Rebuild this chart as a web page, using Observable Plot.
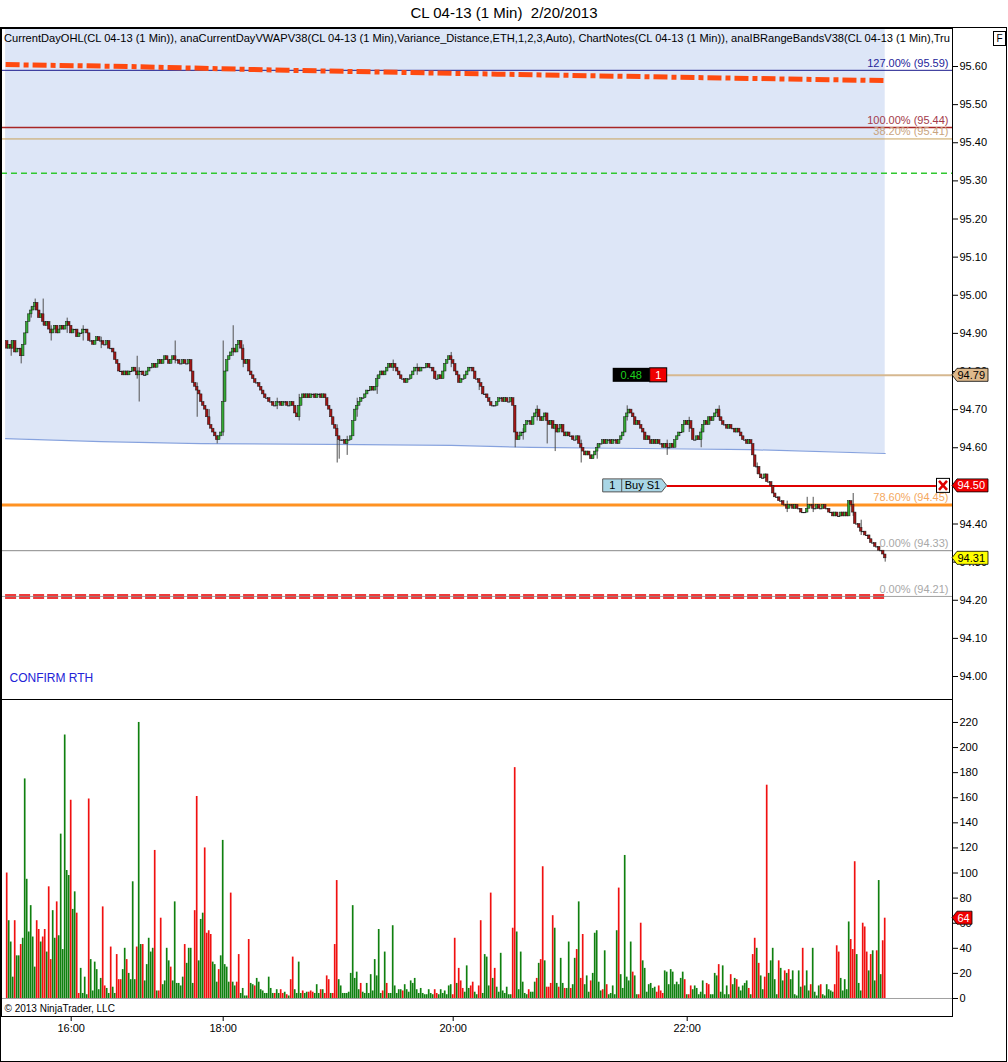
<!DOCTYPE html>
<html><head><meta charset="utf-8">
<script src="https://cdn.jsdelivr.net/npm/d3@7"></script>
<script src="https://cdn.jsdelivr.net/npm/@observablehq/plot@0.6"></script>
<style>
body{margin:0;background:#fff;}
#wrap{position:relative;width:1008px;height:1062px;overflow:hidden;background:#fff;font-family:"Liberation Sans",Arial,sans-serif;}
#title{position:absolute;left:0;top:4px;width:1008px;text-align:center;font-size:15px;white-space:pre;color:#000;}
#frame{position:absolute;left:0;top:27px;width:1005px;height:1033px;border:1px solid #000;}
#price,#vol{position:absolute;left:0;}
#price{top:28px}
#vol{top:699px}
#fbox{position:absolute;left:993px;top:31px;width:11px;height:13px;border:1px solid #000;font-size:10px;text-align:center;line-height:13px;background:#fff;}
</style></head><body>
<div id="wrap"><div id="title">CL 04-13 (1 Min)  2/20/2013</div><div id="frame"></div><div id="price"></div><div id="vol"></div><div id="fbox">F</div></div>
<script>
// ---------- DATA ----------
// 1-minute closes in ticks above 94.00 (price = 94.00 + ticks/100)
const firstOpenTicks = 88;
const closeTicks = [
86,87,86,88,85,86,86,84,87,
90,93,95,96,97,98,96,
94,95,93,92,93,91,90,91,
92,90,91,92,91,92,93,92,90,91,91,89,90,90,91,91,90,
88,88,87,88,89,88,88,87,87,88,
86,86,85,83,82,
80,80,79,80,79,80,80,81,80,79,80,80,79,79,80,
81,81,82,81,82,83,82,83,84,83,82,83,84,
83,83,82,82,83,82,82,83,
80,77,76,75,74,72,
71,70,68,66,65,
64,63,62,63,64,
72,80,
83,84,85,86,85,87,88,86,
83,82,83,
80,79,78,77,77,
76,75,74,73,73,
72,72,71,71,72,72,71,72,72,71,71,72,71,
69,68,71,73,74,
73,74,73,74,74,73,74,74,73,74,73,
71,70,68,66,65,63,62,62,
62,61,62,62,63,
67,70,71,72,73,73,
74,75,75,76,75,76,78,
79,80,79,80,81,
82,81,82,81,80,
79,78,78,77,78,78,79,80,
81,81,80,81,81,81,82,81,81,80,
78,78,79,78,
80,82,83,84,83,82,
80,79,77,78,78,79,
80,81,81,80,
78,78,77,76,
74,74,73,72,71,
71,71,72,73,73,
72,73,72,72,73,71,
64,62,63,64,64,
66,67,67,66,
68,69,70,68,67,68,69,67,66,67,
65,66,64,65,66,64,63,64,63,63,
62,62,63,61,60,
59,58,59,58,57,58,59,60,
61,61,62,61,62,62,61,62,
62,61,62,63,64,
68,69,70,69,68,
66,67,66,65,64,
62,63,62,61,62,61,62,61,61,
60,61,60,60,61,60,
62,63,64,64,
66,67,66,67,65,
62,62,63,62,64,
66,67,66,68,67,68,69,70,68,67,
66,66,65,66,65,65,64,65,64,63,
62,62,61,62,61,
58,55,55,
53,52,52,53,51,51,50,
48,47,47,46,46,
45,45,44,45,45,44,45,44,44,43,
43,43,44,
45,45,44,44,45,44,44,45,44,44,
43,43,42,43,42,42,43,42,43,42,
46,45,43,
40,40,39,38,38,37,37,
36,35,35,34,34,33,33,
32,31];

// notable wicks: [bar, high ticks, low ticks]
const wicks = [[2,88,84],[7,86,82],[12,97,94],[14,99,96],[18,99,92],[22,92,88],[30,94,90],[38,92,88],[47,89,86],
[65,84,78],[66,81,72],[84,88,82],[95,77,68],[101,70,66],[105,63,61],[108,88,63],[113,92,84],[118,87,81],[135,73,70],
[146,74,67],[165,66,56],[166,63,57],[170,63,58],[175,73,68],[185,79,74],[193,83,80],[205,82,79],[222,85,81],[236,78,75],
[254,71,60],[258,65,62],[265,71,67],[270,69,61],[274,65,59],[287,62,56],[295,61,57],[310,71,67],[330,62,58],[341,68,64],
[347,65,60],[356,71,67],[375,56,53],[390,46,43],[400,47,43],[403,47,43],[423,48,42],[427,41,37],[439,32,30]];

// volume per bar and its colour (g = up, r = down)
const volumes = [
100,62,45,17,62,34,34,43,48,175, 95,53,74,49,25,62,55,45,49,55, 37,89,31,70,48,77,50,131,39,210,
102,98,158,71,85,68,4,24,4,17, 3,159,31,6,29,23,7,16,73,10, 8,4,41,9,4,35,15,15,23,40,
31,20,15,93,15,41,220,43,43,14, 27,48,37,40,118,6,6,64,11,14, 40,30,25,14,77,12,12,10,17,43,
28,40,40,12,70,161,30,63,68,120, 52,54,51,29,27,13,23,34,126,27, 25,13,84,13,10,13,35,4,8,2,
2,47,12,11,10,16,13,7,6,4, 4,17,8,4,4,7,4,7,4,5, 3,2,15,33,7,4,29,4,6,4,
5,5,6,5,4,11,4,7,7,4, 18,15,4,4,43,94,15,
10,4,4,4,5,20,74,16,21,7, 12,5,4,12,4,19,6,31,18,55, 4,6,37,12,4,4,58,10,4,7,
7,6,11,7,5,14,12,16,7,4, 8,4,3,3,7,4,3,7,4,3, 7,4,6,3,10,11,3,48,12,24,
14,8,5,26,8,10,13,5,3,10, 62,4,35,33,10,84,16,24,9,5, 36,6,4,9,3,3,56,184,53,7,
37,13,4,3,7,5,5,13,16,28, 31,105,30,9,9,12,66,56,12,9, 32,12,8,8,45,8,11,32,39,77,
16,51,11,18,5,14,20,52,54,13, 6,7,38,11,3,4,10,3,54,88, 19,8,114,17,14,45,21,18,3,3,
60,30,24,5,11,12,8,9,5,10, 6,4,22,21,11,
23,21,11,13,11,16,21,15,3,3, 10,7,10,8,3,5,14,3,12,11, 3,3,20,18,27,5,26,3,10,3,
19,11,16,15,9,6,10,12,14,8, 3,35,48,40,28,18,7,17,170,20, 30,40,15,3,30,24,14,22,20,23,
15,22,3,2,22,9,40,10,22,6, 11,40,5,2,10,11,3,2,11,7, 6,5,11,42,37,16,6,15,7,61,
47,39,109,35,12,6,60,57,37,22, 35,38,14,38,94,19,46,64];
const volumeDirs = (
"rgggrggrgg"+"gggggrrgrr"+"grrggrgggg"+"ggrggrrggg"+"grggggggrr"+"ggrggrrrgg"+"rggggrggrg"+"ggggrgrrgg"+
"ggrggggggr"+"ggggrrgggr"+"rrrgggrggg"+"ggrggrrggg"+"grggrggggg"+"ggggrggrrg"+"rgrrggggrg"+"grrrgggrgr"+"rrgrrrg"+
"gggggggggg"+"rggggggggg"+"grgrgggggg"+"grgggggggg"+"gggggggrrg"+"ggggggrrgr"+"rrgggrrggr"+"rggggrgrgg"+
"ggggggrrgg"+"ggggrgggrg"+"rrgrrrrggr"+"ggrggrggrg"+"rrgggrgggg"+"grgrgggggr"+"ggggggrggr"+"rgggggggrr"+"rrggg"+
"gggggggrgr"+"rgggggggrr"+"ggggrggggg"+"rggrgggggr"+"grrgrggrrg"+"ggggrggrgr"+"ggggggrggg"+"rggggrgggg"+
"ggrrrggggg"+"rrrgggrrrg"+"rggrggrr").split("");

// VWAP lower band (bottom of shaded zone) and upper VWAP line, read at a few bars
const bandBars = [-0.8, 47, 97, 162, 222, 262, 317, 372, 439];
const bandPrices = [94.624, 94.616, 94.611, 94.609, 94.606, 94.601, 94.598, 94.595, 94.585];
const vwapBars = [-0.8, 60, 140, 245, 345, 439];
const vwapPrices = [95.605, 95.600, 95.590, 95.580, 95.571, 95.563];

// price levels with labels
const levelValues = [95.59, 95.44, 95.41, 94.45, 94.33, 94.21];
const levelLabels = ["127.00% (95.59)", "100.00% (95.44)", "38.20% (95.41)", "78.60% (94.45)", "0.00% (94.33)", "0.00% (94.21)"];
const levelLabelColors = ["#25259a", "#a33a4a", "#c8a47e", "#f4a860", "#a8a8a8", "#a8a8a8"];

const ibMid = 95.32;       // green dashed
const noteBar = 330;       // chart note / order anchor bar
const noteLevel = 94.79;
const orderLevel = 94.50;
const lastPrice = 94.31;
const lastVolume = 64;

const priceTicks = [94.0,94.1,94.2,94.3,94.4,94.5,94.6,94.7,94.8,94.9,95.0,95.1,95.2,95.3,95.4,95.5,95.6];
const volumeTicks = [0,20,40,60,80,100,120,140,160,180,200,220];
const timeTickBars = [32, 108, 223, 340];
const timeTickLabels = ["16:00", "18:00", "20:00", "22:00"];

const legendText = "CurrentDayOHL(CL 04-13 (1 Min)), anaCurrentDayVWAPV38(CL 04-13 (1 Min),Variance_Distance,ETH,1,2,3,Auto), ChartNotes(CL 04-13 (1 Min)), anaIBRangeBandsV38(CL 04-13 (1 Min),Tru";

// ---------- BUILD ----------
const UP = "#34a834", DOWN = "#a01616", VUP = "#0f800f", VDOWN = "#f01010";
const wickMap = new Map(wicks.map(w => [w[0], w]));
const bars = closeTicks.map((c, i) => {
  const o = i ? closeTicks[i - 1] : firstOpenTicks;
  const w = wickMap.get(i);
  const hi = Math.max(o, c, w ? w[1] : -1e9), lo = Math.min(o, c, w ? w[2] : 1e9);
  return {i, ot: o, ct: c, open: 94 + o / 100, close: 94 + c / 100, high: 94 + hi / 100, low: 94 + lo / 100, wick: hi > Math.max(o, c) || lo < Math.min(o, c)};
});
const band = bandBars.map((b, k) => ({i: b, p: bandPrices[k]}));
const vwap = vwapBars.map((b, k) => ({i: b, p: vwapPrices[k]}));
const levels = levelValues.map((v, k) => ({v, label: levelLabels[k], color: levelLabelColors[k]}));
const vols = volumes.map((v, i) => ({i, v, fill: volumeDirs[i] === "r" ? VDOWN : VUP}));
const timeLabel = new Map(timeTickBars.map((b, k) => [b, timeTickLabels[k]]));

const xDomain = [-2.85, 472.65];
const font = "'Liberation Sans', Arial, sans-serif";
const baseStyle = {fontFamily: font, fontSize: "11px", background: "transparent", overflow: "visible", color: "#000"};

const pricePlot = Plot.plot({
  width: 1008, height: 671, marginLeft: 1, marginRight: 56, marginTop: 0, marginBottom: 0,
  style: baseStyle,
  x: {domain: xDomain, axis: null},
  y: {domain: [93.9397, 95.6997], axis: null},
  color: {type: "identity"},
  marks: [
    Plot.areaY(band, {x: "i", y1: "p", y2: 95.8, fill: "#dde6f7", clip: true}),
    Plot.line(band, {x: "i", y: "p", stroke: "#86a2de", strokeWidth: 1.2}),
    Plot.ruleY([levelValues[0]], {stroke: "#1a1a8c", strokeWidth: 1}),
    Plot.line(vwap, {x: "i", y: "p", stroke: "#ff4a10", strokeWidth: 5, strokeDasharray: "14,4,5,4", strokeLinecap: "butt", strokeLinejoin: "miter", clip: true}),
    Plot.ruleY([levelValues[1]], {stroke: "#a82626", strokeWidth: 1.5}),
    Plot.ruleY([levelValues[2]], {stroke: "#c9a25a", strokeWidth: 1}),
    Plot.ruleY([ibMid], {stroke: "#30c830", strokeWidth: 1.5, strokeDasharray: "6,4"}),
    Plot.ruleY([noteLevel], {x1: noteBar, x2: xDomain[1], stroke: "#d6b890", strokeWidth: 2}),
    Plot.ruleY([levelValues[3]], {stroke: "#ff9222", strokeWidth: 3}),
    Plot.ruleY([levelValues[4]], {stroke: "#888", strokeWidth: 1}),
    Plot.ruleY([levelValues[5]], {x1: -0.8, x2: 439, stroke: "#f03a3a", strokeWidth: 5, strokeDasharray: "11,3"}),
    Plot.ruleY([levelValues[5]], {stroke: "#8a8a8a", strokeWidth: 0.8}),
    Plot.ruleY([orderLevel], {x1: noteBar, x2: 464.6, stroke: "#e00000", strokeWidth: 2}),
    Plot.text(levels, {y: "v", text: "label", fill: "color", frameAnchor: "right", textAnchor: "end", dx: -4, dy: -7, fontSize: 11}),
    Plot.ruleX(bars.filter(d => d.wick), {x: "i", y1: "low", y2: "high", stroke: "#505050", strokeWidth: 1}),
    Plot.rect(bars.filter(d => d.ot !== d.ct), {x1: d => d.i - 0.65, x2: d => d.i + 0.65, y1: "open", y2: "close",
      fill: d => d.ct > d.ot ? UP : DOWN, stroke: "#1a1a1a", strokeWidth: 0.5}),
    Plot.ruleY(bars.filter(d => d.ot === d.ct), {y: "close", x1: d => d.i - 0.8, x2: d => d.i + 0.8, stroke: "#1a1a1a", strokeWidth: 1}),
    Plot.text(["CONFIRM RTH"], {frameAnchor: "bottom-left", dx: 8, dy: -18, textAnchor: "start", fill: "#2222d6", fontSize: 12}),
    Plot.frame({stroke: "#000"}),
    Plot.axisY(priceTicks, {anchor: "right", label: null, tickFormat: d => d.toFixed(2), tickSize: 5, tickPadding: 2, fontSize: 11})
  ]
});
document.getElementById("price").appendChild(pricePlot);

const volPlot = Plot.plot({
  width: 1008, height: 363, marginLeft: 1, marginRight: 56, marginTop: 0, marginBottom: 46,
  style: baseStyle,
  x: {domain: xDomain, axis: null, label: null},
  y: {domain: [-14.35, 238.3], axis: null, label: null},
  color: {type: "identity"},
  marks: [
    Plot.ruleY([0], {stroke: "#a0a0a0"}),
    Plot.rect(vols, {x1: d => d.i - 0.42, x2: d => d.i + 0.42, y1: 0, y2: "v", fill: "fill"}),
    Plot.text(["\u00a9 2013 NinjaTrader, LLC"], {frameAnchor: "bottom-left", dx: 3, dy: -5, textAnchor: "start", fontSize: 10, fontFamily: "'Liberation Sans Narrow', " + font}),
    Plot.frame({stroke: "#000"}),
    Plot.axisY(volumeTicks, {anchor: "right", label: null, tickSize: 5, tickPadding: 2, fontSize: 11}),
    Plot.axisX(timeTickBars, {anchor: "bottom", label: null, tickFormat: d => timeLabel.get(d), tickSize: 5, tickPadding: 3, fontSize: 11})
  ]
});
document.getElementById("vol").appendChild(volPlot);

// ---------- annotations on the drawn scales ----------
function txt(sel, x, y, s, opts = {}) {
  return sel.append("text").attr("x", x).attr("y", y).attr("dy", "0.36em")
    .attr("text-anchor", opts.anchor || "start").attr("font-size", opts.size || 11)
    .attr("font-family", opts.family || font).attr("fill", opts.fill || "#000").text(s);
}
function tag(svg, y, label, fill, color, w) {
  const g = svg.append("g");
  g.append("path").attr("d", `M952,${y} L957,${y - 6.5} H${952 + w} V${y + 6.5} H957 Z`)
    .attr("fill", fill).attr("stroke", "#000").attr("stroke-width", 0.8);
  txt(g, 957.5, y, label, {fill: color});
}
{
  const svg = d3.select(pricePlot);
  const xs = pricePlot.scale("x"), ys = pricePlot.scale("y");
  txt(svg, 4, 10, legendText, {family: "'Liberation Sans Narrow','Arial Narrow'," + font})
    .attr("textLength", 946).attr("lengthAdjust", "spacingAndGlyphs");
  const px = xs.apply(noteBar);
  // chart note "0.48 | 1"
  const yn = ys.apply(noteLevel);
  svg.append("rect").attr("x", px - 54).attr("y", yn - 7).attr("width", 37).attr("height", 14).attr("fill", "#000");
  svg.append("rect").attr("x", px - 17).attr("y", yn - 7).attr("width", 17).attr("height", 14).attr("fill", "#f00000").attr("stroke", "#000");
  txt(svg, px - 35.5, yn, "0.48", {anchor: "middle", fill: "#1ed21e"});
  txt(svg, px - 8.5, yn, "1", {anchor: "middle", fill: "#fff"});
  // order marker "1 | Buy S1"
  const yo = ys.apply(orderLevel);
  svg.append("path").attr("d", `M${px - 64},${yo - 6.5} H${px - 5} L${px},${yo} L${px - 5},${yo + 6.5} H${px - 64} Z`)
    .attr("fill", "#a9d6e6").attr("stroke", "#555").attr("stroke-width", 1);
  svg.append("line").attr("x1", px - 45).attr("x2", px - 45).attr("y1", yo - 6.5).attr("y2", yo + 6.5).attr("stroke", "#555");
  txt(svg, px - 54.5, yo, "1", {anchor: "middle"});
  txt(svg, px - 42, yo, "Buy S1");
  // close-order box
  svg.append("rect").attr("x", 936.5).attr("y", yo - 7).attr("width", 13).attr("height", 14).attr("fill", "#fff").attr("stroke", "#000");
  svg.append("path").attr("d", `M939,${yo - 4.5} L947,${yo + 4.5} M947,${yo - 4.5} L939,${yo + 4.5}`).attr("stroke", "#e00000").attr("stroke-width", 2.5);
  // axis tags
  tag(svg, ys.apply(noteLevel), noteLevel.toFixed(2), "#ddb98c", "#000", 36);
  tag(svg, ys.apply(orderLevel), orderLevel.toFixed(2), "#f00000", "#fff", 36);
  tag(svg, ys.apply(lastPrice), lastPrice.toFixed(2), "#ffff00", "#000", 36);
}
{
  const svg = d3.select(volPlot);
  const ys = volPlot.scale("y");
  tag(svg, ys.apply(lastVolume), String(lastVolume), "#f00000", "#fff", 20);
}
</script></body></html>
